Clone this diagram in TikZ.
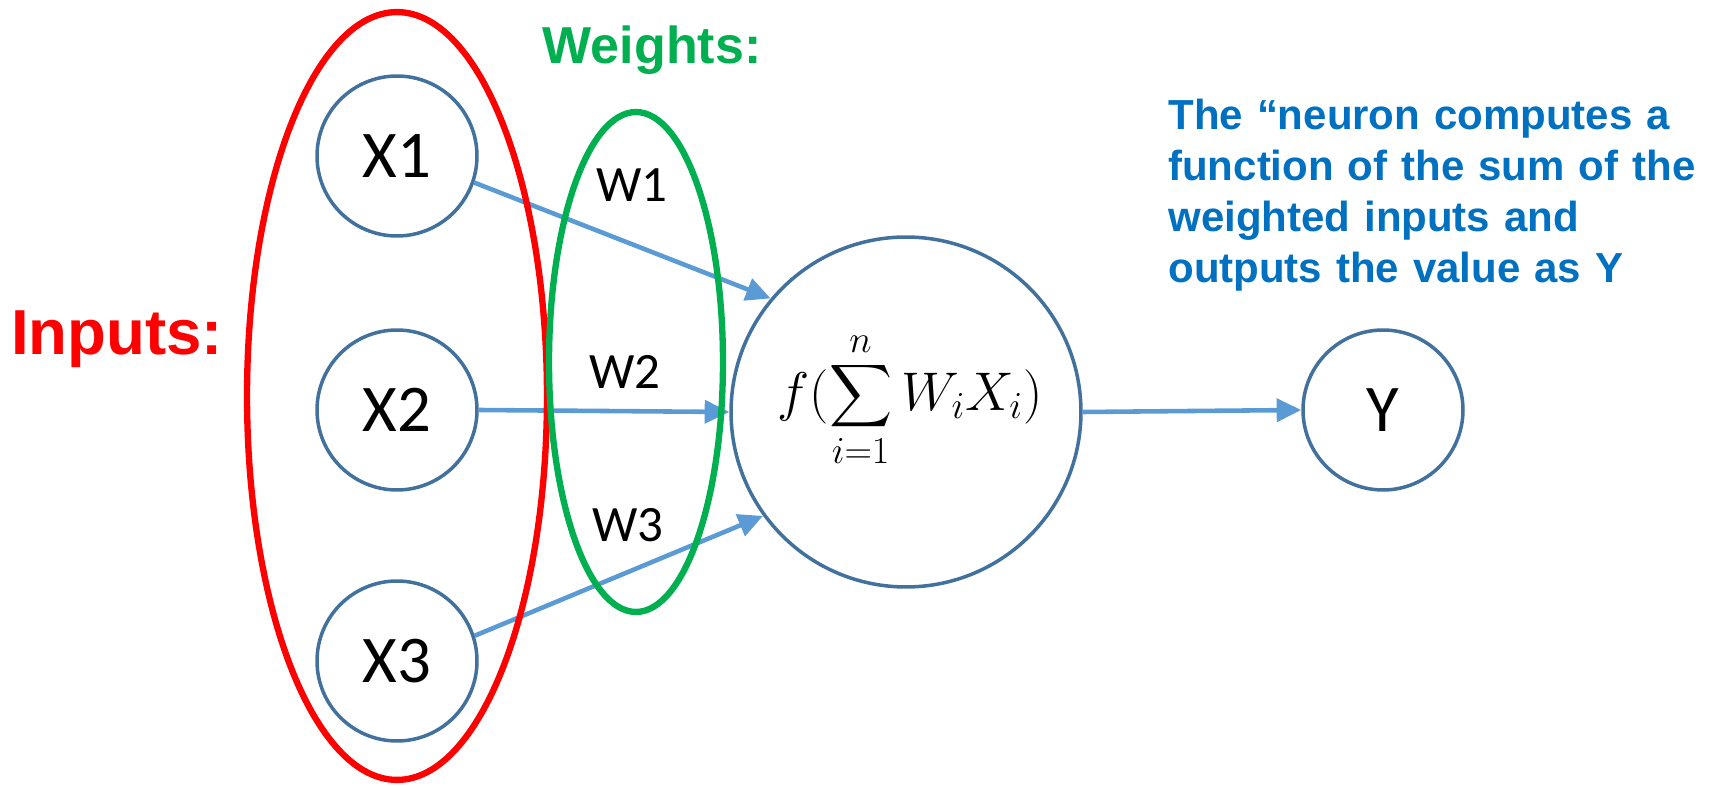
\documentclass[tikz,border=0pt]{standalone}
\usepackage{fix-cm}
\usepackage{amsmath}
\usepackage{fontspec}
\setmainfont{Carlito}
\newfontfamily\headfont{Liberation Sans}
\usetikzlibrary{arrows.meta,shapes.geometric}
\definecolor{unitblue}{HTML}{41719C}
\definecolor{linkblue}{HTML}{5B9BD5}
\definecolor{noteblue}{HTML}{0070C0}
\definecolor{groupgreen}{HTML}{00B050}

\begin{document}
\begin{tikzpicture}[x=0.02cm, y=-0.02cm,
  unit/.style={draw=unitblue, line width=2pt, circle, inner sep=0pt,
               minimum size=#1, font=\fontsize{38}{44}\selectfont},
  unit/.default=3.2cm,
  group/.style={draw=#1, line width=3.6pt, ellipse, inner sep=0pt},
  link/.style={-{Triangle[length=14pt,width=13pt]}, linkblue, line width=2.6pt},
  wlabel/.style={font=\fontsize{29}{34}\selectfont, inner sep=0pt},
  head/.style={font=\headfont\bfseries\fontsize{#1}{#1}\selectfont, inner sep=0pt}
]
  \useasboundingbox (0,0) rectangle (1712,786);
  % units
  \node[unit] (x1) at (397,156) {X1};
  \node[unit] (x2) at (397,410) {X2};
  \node[unit] (x3) at (397,661) {X3};
  \node[unit=7cm] (neuron) at (906,412) {};
  \node[unit] (y) at (1383,410) {Y};
  \node[inner sep=0pt] (sumf) at (910,400)
       {\fontsize{31}{36}\selectfont$\displaystyle f(\sum_{i=1}^{n} W_i X_i)$};
  % links
  \draw[link] (x1.-19) -- (neuron.140);
  \draw[link] (x2.east) -- (neuron.west);
  \draw[link] (x3.18)  -- (neuron.216);
  \draw[link] (neuron.east) -- (y.west);
  % groups
  \node[group=red, minimum width=6cm, minimum height=15.36cm] (inputs) at (397,396) {};
  \node[group=groupgreen, minimum width=3.48cm, minimum height=10cm] (weights) at (636,362) {};
  \node[wlabel] (w1) at (632,185) {W1};
  \node[wlabel] (w2) at (625,372) {W2};
  \node[wlabel] (w3) at (628,525) {W3};
  % headings
  \node[head=36.2, red, anchor=base] (inlabel) at (117,355) {Inputs:};
  \node[head=29.6, groupgreen, anchor=base] (wtlabel) at (652,64) {Weights:};
  \node[font=\headfont\bfseries\fontsize{23.9}{28.9}\selectfont, noteblue,
        text width=11cm, align=left, inner sep=0pt, anchor=north west] (note) at (1168,99)
       {The “neuron computes a\\function of the sum of the\\weighted inputs and\\outputs the value as Y};
\end{tikzpicture}
\end{document}
